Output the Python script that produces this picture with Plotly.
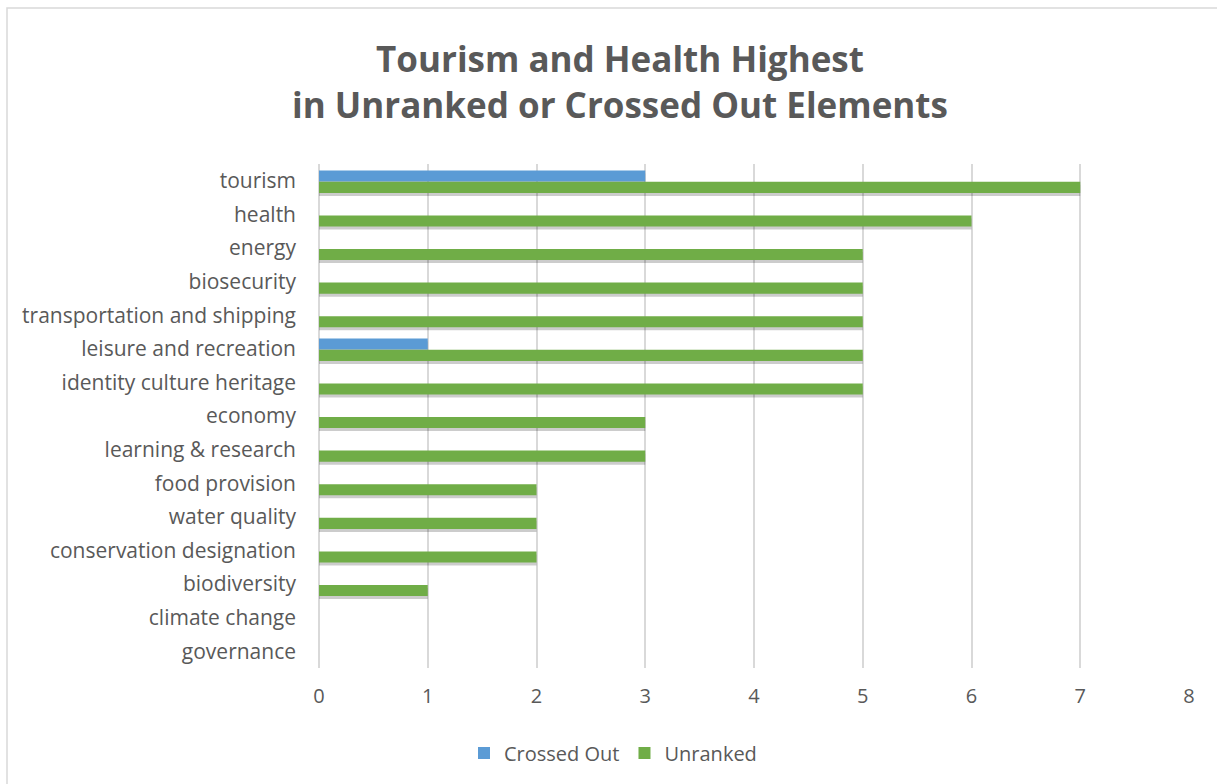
import plotly.graph_objects as go

categories = [
    "tourism", "health", "energy", "biosecurity", "transportation and shipping",
    "leisure and recreation", "identity culture heritage", "economy",
    "learning & research", "food provision", "water quality",
    "conservation designation", "biodiversity", "climate change", "governance",
]
crossed_out = [3, 0, 0, 0, 0, 1, 0, 0, 0, 0, 0, 0, 0, 0, 0]
unranked = [7, 6, 5, 5, 5, 5, 5, 3, 3, 2, 2, 2, 1, 0, 0]
x_ticks = [0, 1, 2, 3, 4, 5, 6, 7, 8]

BLUE = "#5B9BD5"
GREEN = "#70AD47"
TEXT = "#595959"
FONT = "'Open Sans', sans-serif"

# plot area geometry in pixels (used to place paper-referenced decorations)
W, H = 1217, 784
L, R, T, B = 319, 28, 164, 116
pw, ph = W - L - R, H - T - B


def px_x(px):
    return (px - L) / pw


def px_y(py):
    return 1 - (py - T) / ph


bar_w = 0.33
series = [
    ("Crossed Out", crossed_out, BLUE, -0.31),
    ("Unranked", unranked, GREEN, 0.03),
]

fig = go.Figure()

# soft drop shadows under each bar
for name, vals, color, off in series:
    fig.add_trace(go.Bar(
        y=categories, x=vals, orientation="h",
        offset=off + 0.09, width=bar_w,
        marker=dict(color="rgba(0,0,0,0.2)", line=dict(width=0)),
        showlegend=False, hoverinfo="skip",
    ))

for name, vals, color, off in series:
    fig.add_trace(go.Bar(
        name=name, y=categories, x=vals, orientation="h",
        offset=off, width=bar_w,
        marker=dict(color=color, line=dict(width=0)),
    ))

fig.update_layout(
    width=W, height=H,
    margin=dict(l=L, r=R, t=T, b=B, pad=0),
    paper_bgcolor="white", plot_bgcolor="white",
    barmode="overlay",
    font=dict(family=FONT, color=TEXT, size=20),
    title=dict(
        text="<b>Tourism and Health Highest<br>in Unranked or Crossed Out Elements</b>",
        x=620 / W, xanchor="center",
        y=1 - 72 / H, yanchor="middle", yref="container",
        font=dict(family=FONT, size=35, color=TEXT),
    ),
    xaxis=dict(
        range=[0, 8], tickvals=x_ticks, ticktext=[str(v) for v in x_ticks],
        showgrid=True, gridcolor="#d9d9d9", gridwidth=1.5,
        zeroline=True, zerolinecolor="#d9d9d9", zerolinewidth=1.5,
        showline=False, ticks="", ticklabelstandoff=14,
        tickfont=dict(size=20, color=TEXT), fixedrange=True,
    ),
    yaxis=dict(
        type="category", autorange="reversed",
        showgrid=False, zeroline=False, showline=False, ticks="",
        ticklabelstandoff=22, tickfont=dict(size=21, color=TEXT),
    ),
    legend=dict(
        orientation="h", x=px_x(613), xanchor="center",
        y=px_y(753), yanchor="middle",
        font=dict(size=20, color=TEXT), itemwidth=30,
        traceorder="normal",
    ),
    showlegend=True,
    shapes=[dict(
        type="rect", xref="paper", yref="paper",
        x0=px_x(7), x1=px_x(1225), y0=px_y(792), y1=px_y(8),
        line=dict(color="#d9d9d9", width=1.5), fillcolor="rgba(0,0,0,0)",
        layer="below",
    )],
)

fig.write_html("out.html")
